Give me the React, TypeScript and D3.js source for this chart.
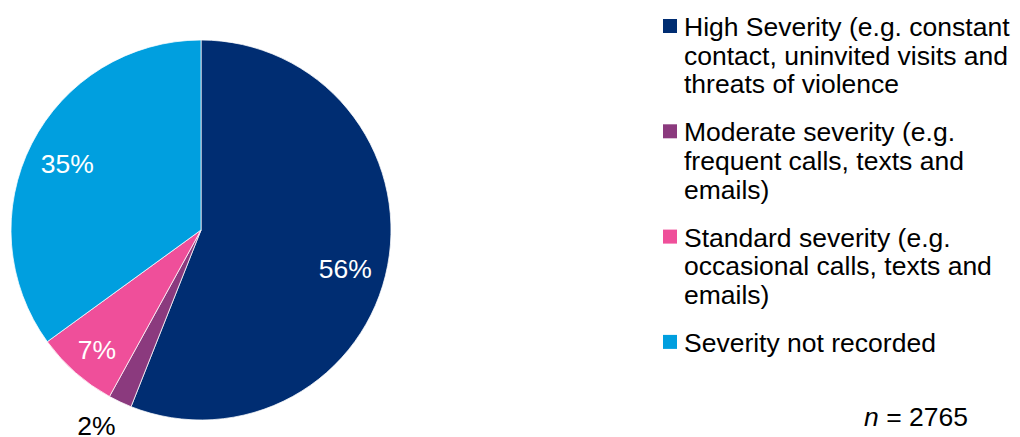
import React from "react";
import * as d3 from "d3";

const categories = [
  "High Severity (e.g. constant contact, uninvited visits and threats of violence",
  "Moderate severity (e.g. frequent calls, texts and emails)",
  "Standard severity (e.g. occasional calls, texts and emails)",
  "Severity not recorded",
];
const legendLines = [
  ["High Severity (e.g. constant", "contact, uninvited visits and", "threats of violence"],
  ["Moderate severity (e.g.", "frequent calls, texts and", "emails)"],
  ["Standard severity (e.g.", "occasional calls, texts and", "emails)"],
  ["Severity not recorded"],
];
const values = [56, 2, 7, 35];
const labels = ["56%", "2%", "7%", "35%"];
const colors = ["#002D72", "#8B3A7E", "#EF4F9A", "#009FDF"];
const sampleSize = "2765";

const W = 1020;
const H = 437;
const cx = 201;
const cy = 230;
const R = 190;
const FONT = "Arial, 'Liberation Sans', sans-serif";
const FS = 26.5;

export default function App() {
  const pie = d3.pie<number>().sort(null).value((d) => d).startAngle(0).endAngle(2 * Math.PI);
  const arcs = pie(values);
  const arc = d3.arc<d3.PieArcDatum<number>>().innerRadius(0).outerRadius(R);
  const labelArc = d3.arc<d3.PieArcDatum<number>>().innerRadius(150).outerRadius(150);
  const outerArc = d3.arc<d3.PieArcDatum<number>>().innerRadius(222).outerRadius(222);
  const inside = [true, false, true, true];
  const labelAdjust: [number, number][] = [[-3, 13], [-10, -3], [-5, 9], [0, 4]];

  // legend layout
  const lineH = 28.6;
  const gap = 19.5;
  let y = 36;
  const legendPos: number[] = [];
  legendLines.forEach((lines) => {
    legendPos.push(y);
    y += lines.length * lineH + gap;
  });

  return (
    <svg
      width={W}
      height={H}
      style={{ position: "absolute", left: 0, top: 0, display: "block", background: "#fff" }}
      fontFamily={FONT}
    >
      <g transform={`translate(${cx},${cy})`}>
        {arcs.map((a, i) => (
          <path key={i} d={arc(a) || ""} fill={colors[i]} stroke="#fff" strokeWidth={0.75} />
        ))}
        {arcs.map((a, i) => {
          const [x, yy] = inside[i] ? labelArc.centroid(a) : outerArc.centroid(a);
          return (
            <text
              key={i}
              x={x + labelAdjust[i][0]}
              y={yy + labelAdjust[i][1]}
              textAnchor="middle"
              dominantBaseline="middle"
              fontSize={FS}
              fill={inside[i] ? "#fff" : "#000"}
            >
              {labels[i]}
            </text>
          );
        })}
      </g>
      <g>
        {legendLines.map((lines, i) => (
          <g key={i}>
            <title>{categories[i]}</title>
            <rect x={663} y={legendPos[i] - 17} width={14} height={14} fill={colors[i]} />
            <text x={684} y={legendPos[i]} fontSize={FS} fill="#000">
              {lines.map((ln, j) => (
                <tspan key={j} x={684} y={legendPos[i] + j * lineH}>
                  {ln}
                </tspan>
              ))}
            </text>
          </g>
        ))}
        <text x={968} y={426} textAnchor="end" fontSize={FS} fill="#000">
          <tspan fontStyle="italic">n</tspan>
          <tspan> = {sampleSize}</tspan>
        </text>
      </g>
    </svg>
  );
}
